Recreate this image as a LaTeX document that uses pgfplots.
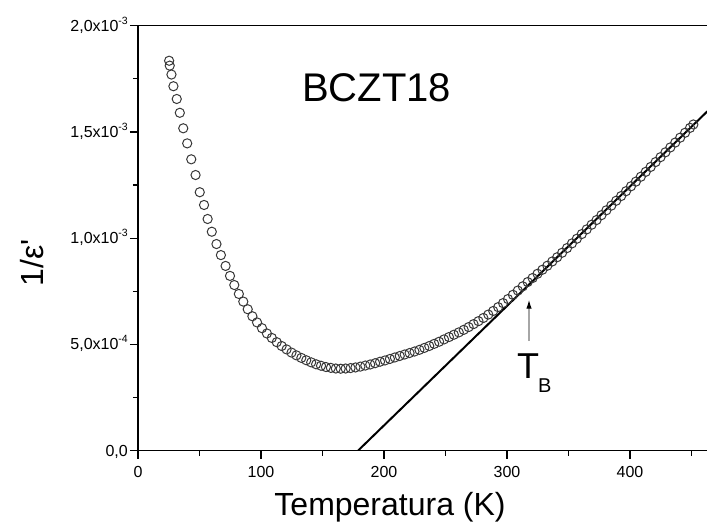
\documentclass[border=0pt]{standalone}
\usepackage{fontspec}
\setmainfont{Liberation Sans}
\usepackage{pgfplots}
\pgfplotsset{compat=1.18}
\usetikzlibrary{arrows.meta}

% 1/eps' in units of 1e-3
\pgfplotstableread{
T y
25.3 1.835
25.8 1.812
27.2 1.770
28.8 1.715
31.5 1.655
34.0 1.590
36.8 1.517
40.0 1.446
43.3 1.371
46.8 1.297
50.2 1.216
53.7 1.156
56.6 1.090
60.0 1.030
63.8 0.972
67.4 0.920
71.2 0.869
74.8 0.822
78.3 0.779
82.0 0.737
85.6 0.701
89.2 0.665
93.0 0.632
96.8 0.603
100.8 0.576
104.8 0.551
108.8 0.530
112.8 0.510
116.8 0.492
120.8 0.476
124.8 0.461
128.8 0.448
132.8 0.436
136.8 0.425
140.8 0.415
144.8 0.406
148.8 0.399
152.8 0.393
156.8 0.389
160.8 0.386
164.8 0.385
168.8 0.386
172.8 0.388
176.8 0.391
180.8 0.395
184.8 0.400
188.8 0.405
192.8 0.411
196.8 0.418
200.8 0.424
204.8 0.431
208.8 0.438
212.8 0.445
216.8 0.452
220.8 0.459
224.8 0.466
228.8 0.474
232.8 0.483
236.8 0.492
240.8 0.502
244.8 0.512
248.8 0.523
252.8 0.534
256.8 0.545
260.8 0.556
264.8 0.568
268.8 0.581
272.8 0.595
276.8 0.609
280.8 0.624
284.8 0.640
288.8 0.657
292.8 0.675
296.8 0.694
300.8 0.713
304.8 0.733
308.8 0.753
312.8 0.773
316.8 0.793
320.8 0.812
324.8 0.832
328.8 0.851
332.8 0.870
336.8 0.890
340.8 0.910
344.8 0.931
348.8 0.953
352.8 0.975
356.8 0.997
360.8 1.019
364.8 1.041
368.8 1.063
372.8 1.085
376.8 1.108
380.8 1.131
384.8 1.153
388.8 1.176
392.8 1.198
396.8 1.221
400.8 1.244
404.8 1.266
408.8 1.289
412.8 1.312
416.8 1.335
420.8 1.358
424.8 1.381
428.8 1.404
432.8 1.427
436.8 1.450
440.8 1.473
444.8 1.496
448.8 1.519
451.5 1.535
}\datatable

\newcommand{\ex}[1]{\raisebox{0.45em}{\fontsize{10.5}{12}\selectfont #1}}

\begin{document}
\begin{tikzpicture}
\begin{axis}[
  name=ax,
  scale only axis,
  width=584.25pt, height=424.8pt,
  xmin=0, xmax=475, ymin=0, ymax=2,
  axis line style={line width=1.2pt},
  tick style={line width=1.2pt, black},
  tick align=outside,
  major tick length=8pt, minor tick length=5pt,
  xtick pos=bottom, ytick pos=left,
  xtick={0,100,200,300,400},
  minor xtick={50,150,250,350,450},
  ytick={0,0.5,1,1.5,2},
  minor ytick={0.25,0.75,1.25,1.75},
  yticklabels={{0,0},{5,0x10\ex{-4}},{1,0x10\ex{-3}},{1,5x10\ex{-3}},{2,0x10\ex{-3}}},
  scaled y ticks=false,
  /pgf/number format/assume math mode=true,
  tick label style={font=\fontsize{16}{19}\selectfont},
  xticklabel style={anchor=north, inner sep=0pt, yshift=-8pt},
  yticklabel style={anchor=base east, inner sep=0pt, xshift=-2pt, yshift=-5.6pt},
  xlabel={Temperatura (K)},
  ylabel={1/ε\textquotesingle},
  every axis x label/.style={at={(axis cs:204.9,-0.3037)}, anchor=base, font=\fontsize{32}{38}\selectfont},
  every axis y label/.style={at={(axis cs:-77.2,0.883)}, anchor=base, rotate=90, font=\fontsize{32}{38}\selectfont},
]
\addplot[only marks, mark=o, mark size=4.6pt,
  mark options={draw=black!78, fill=white, line width=1pt}]
  table[x=T, y=y] {\datatable};
\addplot[black, line width=2pt] coordinates {(179,0) (475,1.665)};
\node[anchor=base west, inner sep=0pt, font=\fontsize{40}{48}\selectfont]
  at (axis cs:133.3,1.641) {BCZT18};
\draw[black!35, line width=1.2pt, -{Latex[black, length=9pt, width=5.5pt]}]
  (axis cs:317.9,0.5155) -- (axis cs:317.9,0.71);
\node[anchor=base west, inner sep=0pt, font=\fontsize{36}{42}\selectfont]
  at (axis cs:308.1,0.3413) {T};
\node[anchor=base west, inner sep=0pt, font=\fontsize{20}{24}\selectfont]
  at (axis cs:325.2,0.2754) {B};
\end{axis}
\pgfresetboundingbox
\path[use as bounding box] (-138pt,-72.5pt) rectangle (569pt,450.5pt);
\end{tikzpicture}
\end{document}
